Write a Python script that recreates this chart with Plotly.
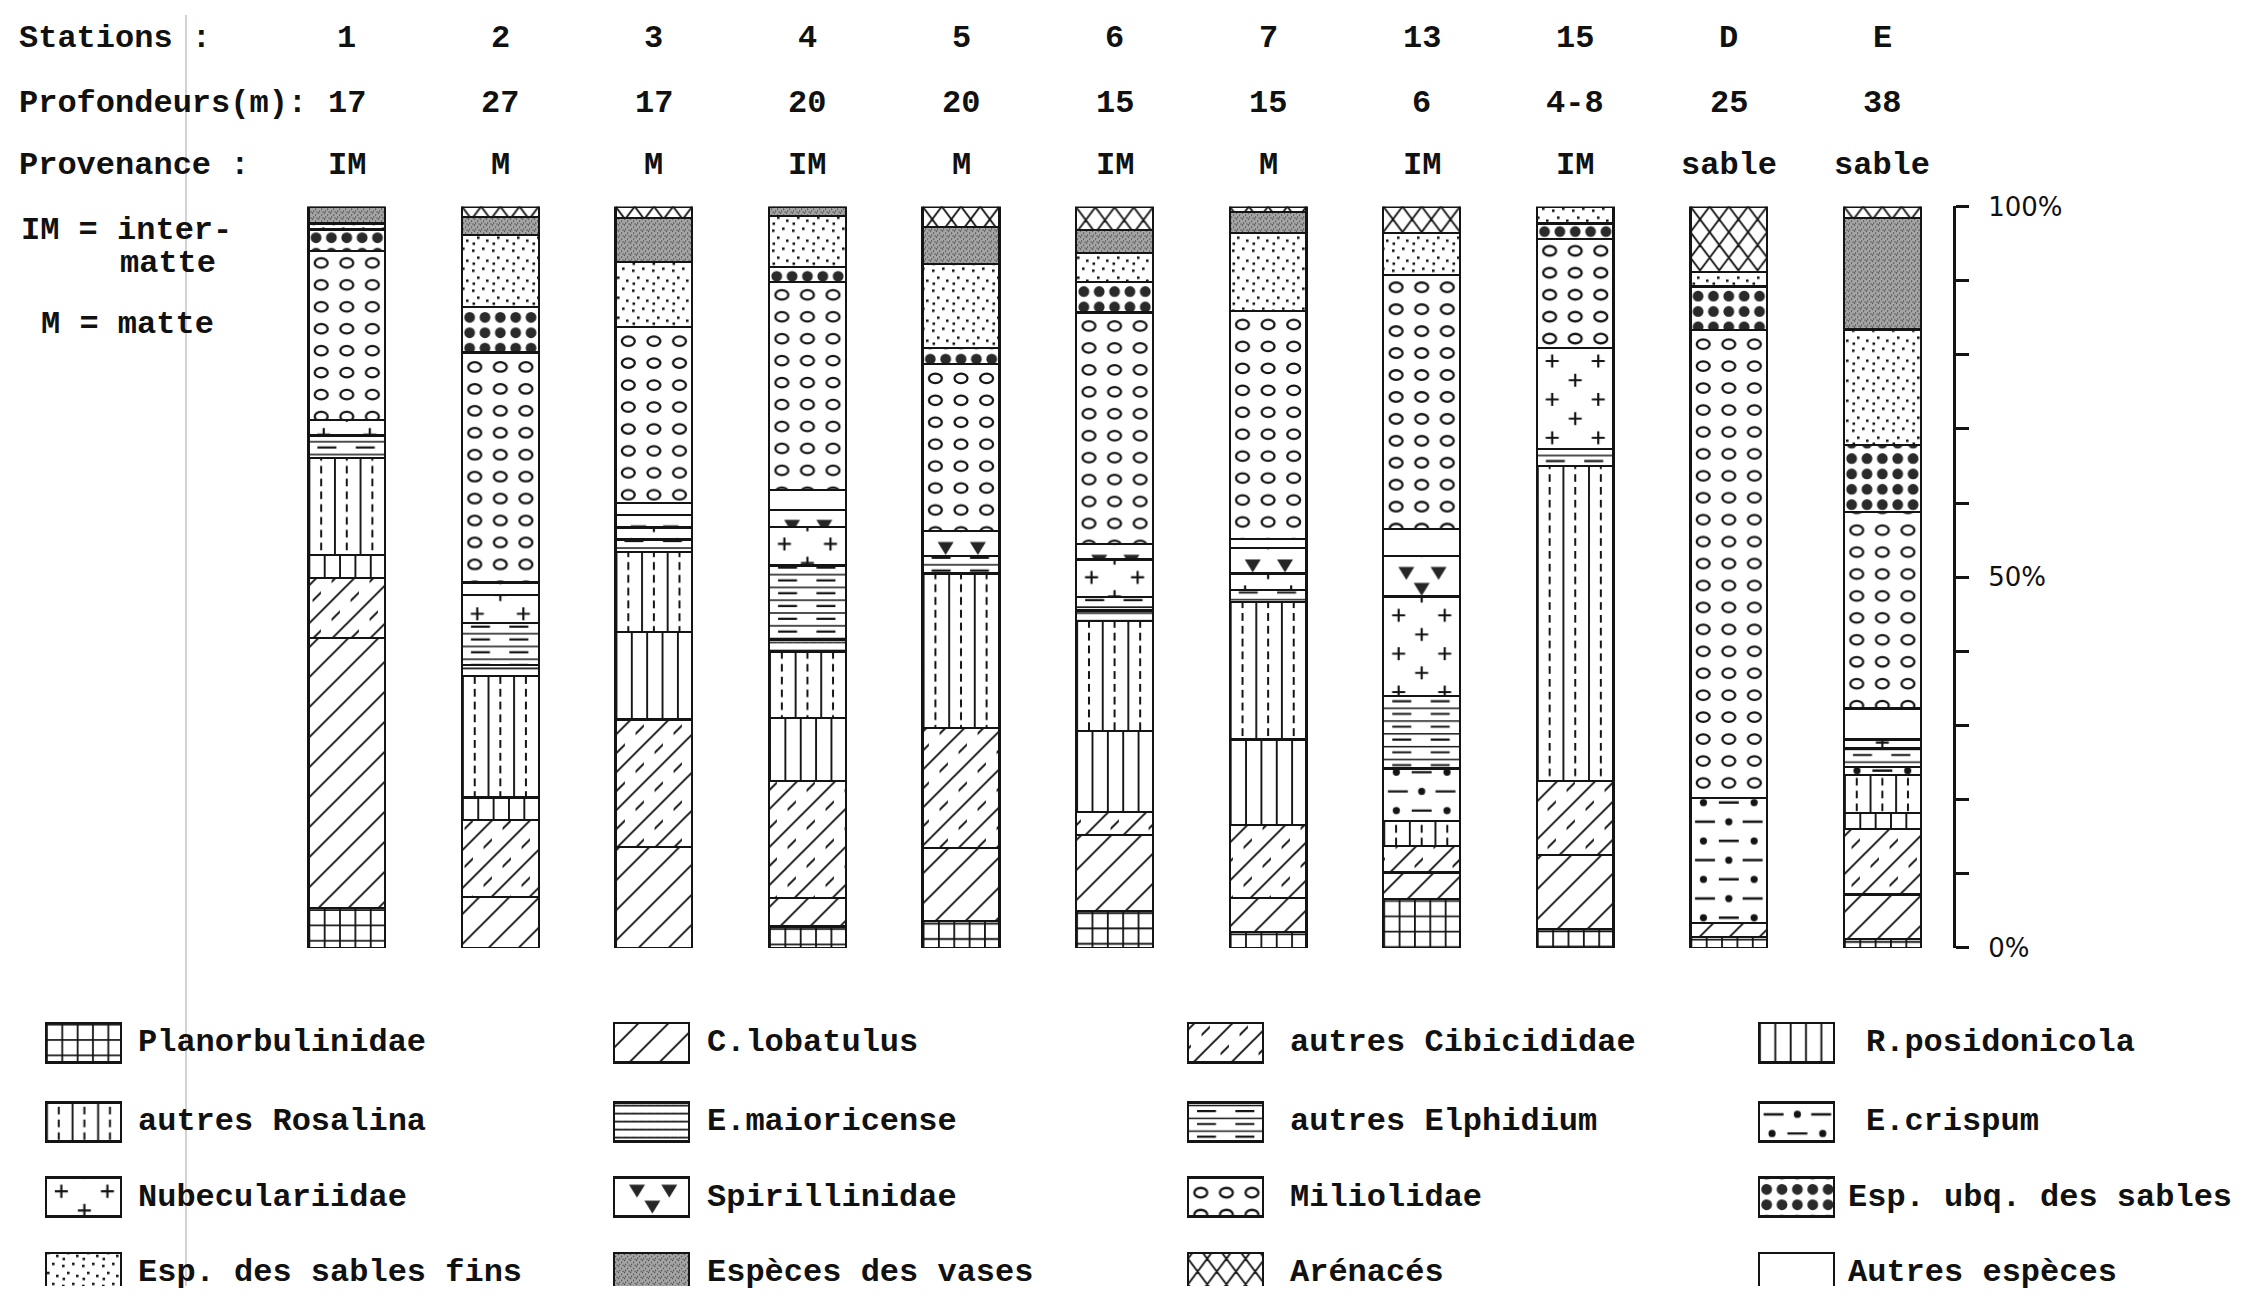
import plotly.graph_objects as go

W, H = 2242, 1301

# ---- station header rows ----
stations = ['1', '2', '3', '4', '5', '6', '7', '13', '15', 'D', 'E']
profondeurs = ['17', '27', '17', '20', '20', '15', '15', '6', '4-8', '25', '38']
provenance = ['IM', 'M', 'M', 'IM', 'M', 'IM', 'M', 'IM', 'IM', 'sable', 'sable']

# ---- composition of each station (% of the assemblage) ----
planorbulinidae    = [5.4, 0.0, 0.0, 2.9, 3.6, 5.0, 2.2, 6.6, 2.6, 1.5, 1.2]
c_lobatulus        = [36.4, 6.9, 13.6, 3.8, 9.9, 10.2, 4.5, 3.6, 9.9, 1.9, 6.0]
autres_cibicididae = [8.1, 10.4, 17.2, 15.8, 16.2, 3.1, 9.9, 3.6, 10.0, 0.0, 8.8]
r_posidonicola     = [3.1, 3.0, 11.8, 8.5, 0.0, 11.0, 11.5, 0.0, 0.0, 0.0, 2.2]
autres_rosalina    = [13.1, 16.4, 10.8, 9.0, 20.8, 14.8, 18.6, 3.3, 42.5, 0.0, 5.1]
e_crispum          = [0.0, 0.0, 0.0, 0.0, 0.0, 0.0, 0.0, 7.1, 0.0, 16.8, 1.1]
e_maioricense      = [0.0, 1.5, 0.0, 1.6, 0.0, 1.4, 0.0, 0.0, 0.0, 0.0, 0.0]
autres_elphidium   = [3.0, 5.6, 1.7, 10.0, 2.4, 1.8, 1.6, 9.8, 2.3, 0.0, 2.5]
nubeculariidae     = [2.1, 3.8, 1.6, 5.2, 0.0, 5.1, 2.2, 13.4, 13.6, 0.0, 1.2]
spirillinidae      = [0.0, 1.7, 1.7, 2.3, 3.3, 2.1, 3.4, 5.5, 0.0, 0.0, 0.0]
autres_especes     = [0.0, 0.0, 1.6, 2.7, 0.0, 0.0, 1.3, 3.6, 0.0, 0.0, 4.2]
miliolidae         = [22.8, 31.0, 23.7, 28.0, 22.6, 31.2, 30.7, 34.3, 14.7, 63.1, 26.5]
esp_ubq_sables     = [2.9, 6.1, 0.0, 2.0, 2.1, 4.1, 0.0, 0.0, 2.1, 5.9, 9.0]
esp_sables_fins    = [0.8, 9.8, 8.8, 6.9, 11.3, 3.9, 10.5, 5.6, 2.3, 2.0, 15.6]
especes_vases      = [2.3, 2.4, 5.9, 1.3, 5.0, 3.1, 2.9, 0.0, 0.0, 0.0, 15.0]
arenaces           = [0.0, 1.4, 1.6, 0.0, 2.8, 3.1, 0.7, 3.6, 0.0, 8.8, 1.6]

# stacking order, bottom to top
stack = [
    ('Planorbulinidae', planorbulinidae),
    ('C.lobatulus', c_lobatulus),
    ('autres Cibicididae', autres_cibicididae),
    ('R.posidonicola', r_posidonicola),
    ('autres Rosalina', autres_rosalina),
    ('E.crispum', e_crispum),
    ('E.maioricense', e_maioricense),
    ('autres Elphidium', autres_elphidium),
    ('Nubeculariidae', nubeculariidae),
    ('Spirillinidae', spirillinidae),
    ('Autres espèces', autres_especes),
    ('Miliolidae', miliolidae),
    ('Esp. ubq. des sables', esp_ubq_sables),
    ('Esp. des sables fins', esp_sables_fins),
    ('Espèces des vases', especes_vases),
    ('Arénacés', arenaces),
]

# key order (4 columns x 4 rows, read row by row)
key_order = [
    'Planorbulinidae', 'C.lobatulus', 'autres Cibicididae', 'R.posidonicola',
    'autres Rosalina', 'E.maioricense', 'autres Elphidium', 'E.crispum',
    'Nubeculariidae', 'Spirillinidae', 'Miliolidae', 'Esp. ubq. des sables',
    'Esp. des sables fins', 'Espèces des vases', 'Arénacés', 'Autres espèces',
]

# ---------- plot geometry ----------
PLOT_L, PLOT_R, PLOT_T, PLOT_B = 270, 1953, 196, 955
X_RANGE = [-0.5, 10.46]
BAR_W = 0.5
UNIT = (PLOT_R - PLOT_L) / (X_RANGE[1] - X_RANGE[0])
BW = BAR_W * UNIT          # bar width in pixels


def bar_left_px(i):
    return (i - BAR_W / 2 - X_RANGE[0]) * UNIT


def value_px(v):
    return (100 - v) / 100 * (PLOT_B - PLOT_T)


# ---------- fill textures (svg paths inside a size x size tile) ----------
def rect(x0, y0, x1, y1):
    return f"M{x0:.2f},{y0:.2f}H{x1:.2f}V{y1:.2f}H{x0:.2f}Z"


def poly(pts):
    return 'M' + 'L'.join(f"{px:.2f},{py:.2f}" for px, py in pts) + 'Z'


def ellipse(cx, cy, rx, ry, sweep=1):
    return (f"M{cx - rx:.2f},{cy:.2f}A{rx},{ry} 0 1,{sweep} {cx + rx:.2f},{cy:.2f}"
            f"A{rx},{ry} 0 1,{sweep} {cx - rx:.2f},{cy:.2f}Z")


def ring(cx, cy, rx, ry, t):
    return ellipse(cx, cy, rx, ry, 1) + ellipse(cx, cy, rx - t, ry - t, 0)


def cross(cx, cy, r, t):
    return (rect(cx - r, cy - t / 2, cx + r, cy + t / 2) +
            rect(cx - t / 2, cy - r, cx + t / 2, cy + r))


def tri_down(cx, ty, w=16, h=13):
    return poly([(cx - w / 2, ty), (cx + w / 2, ty), (cx, ty + h)])


def m_slash(x, y, S, a=1.35):
    return (poly([(x, y + S - a), (x + S - a, y), (x + S, y), (x + S, y + a),
                  (x + a, y + S), (x, y + S)]) +
            poly([(x, y), (x + a, y), (x, y + a)]) +
            poly([(x + S, y + S - a), (x + S, y + S), (x + S - a, y + S)]))


def slash_dash(x, y, S, f0, f1, off, a=1.35):
    return poly([(x + f0 * S, y + (off - f0) * S - a), (x + f1 * S, y + (off - f1) * S - a),
                 (x + f1 * S, y + (off - f1) * S + a), (x + f0 * S, y + (off - f0) * S + a)])


def m_grid(x, y, S):
    return rect(x, y, x + S, y + 1.8) + rect(x, y, x + 1.8, y + S)


def m_vlines(x, y, S):
    return rect(x, y, x + 1.9, y + S)


def m_rosalina(x, y, S):
    c, h = x + S / 2 - 1, S / 2
    return (rect(x, y, x + 1.9, y + S) + rect(c, y + 2, c + 2, y + h - 3) +
            rect(c, y + h + 2, c + 2, y + S - 3))


def m_hlines(x, y, S):
    return rect(x, y, x + S, y + 1.7)


def m_elphidium(x, y, S):
    band, out = S / 3, ''
    for k in range(3):
        yy = y + k * band
        out += rect(x, yy, x + S, yy + 1.5) + rect(x + 9, yy + band / 2 - 1,
                                                   x + 28, yy + band / 2 + 1.2)
    return out


def m_crispum(x, y, S):
    out = ''
    for k in range(4):
        yy = y + (k + 0.5) * S / 4
        if k % 2 == 0:
            out += (rect(x + 0.06 * S, yy - 1.2, x + 0.32 * S, yy + 1.2) +
                    ellipse(x + 0.5 * S, yy, 3.6, 3.6) +
                    rect(x + 0.68 * S, yy - 1.2, x + 0.94 * S, yy + 1.2))
        else:
            out += (ellipse(x + 0.17 * S, yy, 3.6, 3.6) +
                    rect(x + 0.37 * S, yy - 1.2, x + 0.63 * S, yy + 1.2) +
                    ellipse(x + 0.83 * S, yy, 3.6, 3.6))
    return out


def m_nubec(x, y, S):
    out = ''
    for k in range(4):
        yy = y + (k + 0.5) * S / 4
        xs = (0.2, 0.8) if k % 2 == 0 else (0.5,)
        for fx in xs:
            out += cross(x + fx * S, yy, 6.5, 2.2)
    return out


def m_spiril(x, y, S):
    out = ''
    for base in (0, S / 2):
        out += tri_down(x + 0.3 * S, y + base + 3) + tri_down(x + 0.72 * S, y + base + 3)
        out += tri_down(x + 0.5 * S, y + base + 19)
    return out


def m_miliol(x, y, S):
    # 6 columns x 7 rows of small rings in a two-bar-wide tile
    out, cw, rh = '', S / 6, S / 7
    for cx in range(6):
        for ry in range(7):
            out += ring(x + (cx + 0.5) * cw, y + (ry + 0.5) * rh, 7.6, 5.9, 2.3)
    return out


def m_ubq(x, y, S):
    return ellipse(x + S / 2, y + S / 2, 5.4, 5.4)


def m_fins(x, y, S):
    return ''.join(rect(x + px, y + py, x + px + 2.6, y + py + 2.6)
                   for px, py in [(2, 3), (12, 1), (7, 10), (16, 13), (2.5, 16)])


def m_vases(x, y, S):
    return ''.join(rect(x + px, y + py, x + px + 1.2, y + py + 1.2)
                   for px, py in [(0, 0), (3, 2), (1, 4), (4.5, 5)])


def m_cib(x, y, S):
    return (m_slash(x, y, S) + slash_dash(x, y, S, 0.12, 0.34, 0.5) +
            slash_dash(x, y, S, 0.62, 0.84, 1.5))


def m_aren(x, y, S, n=4, m=3, a=1.15):
    # two families of steep lines giving narrow, tall diamonds
    d, run, out = S / n, S * m / n, ''
    for k in range(-n, n + 1):
        xa = x + k * d
        out += poly([(xa - a, y), (xa + a, y), (xa + run + a, y + S), (xa + run - a, y + S)])
        out += poly([(xa + run - a, y), (xa + run + a, y), (xa + a, y + S), (xa - a, y + S)])
    return out


INK = '#141414'
# name -> (motif, tile size, align to bar, fg, bg)
textures = {
    'Planorbulinidae':      (m_grid, BW / 5, True, INK, 'white'),
    'C.lobatulus':          (m_slash, 30, False, INK, 'white'),
    'autres Cibicididae':   (m_cib, 38, False, INK, 'white'),
    'R.posidonicola':       (m_vlines, BW / 5, True, INK, 'white'),
    'autres Rosalina':      (m_rosalina, BW / 3, True, INK, 'white'),
    'E.crispum':            (m_crispum, BW, True, INK, 'white'),
    'E.maioricense':        (m_hlines, BW / 9.6, True, INK, 'white'),
    'autres Elphidium':     (m_elphidium, BW / 2, True, INK, 'white'),
    'Nubeculariidae':       (m_nubec, BW, True, INK, 'white'),
    'Spirillinidae':        (m_spiril, BW, True, '#262626', 'white'),
    'Autres espèces':       (None, None, False, INK, 'white'),
    'Miliolidae':           (m_miliol, 2 * BW, True, INK, 'white'),
    'Esp. ubq. des sables': (m_ubq, BW / 5, True, '#2a2a2a', 'white'),
    'Esp. des sables fins': (m_fins, 20, False, INK, 'white'),
    'Espèces des vases':    (m_vases, 6, False, '#3c3c3c', '#a6a6a6'),
    'Arénacés':             (m_aren, BW, True, INK, 'white'),
}
fallback_shape = {
    'Planorbulinidae': '+', 'C.lobatulus': '/', 'autres Cibicididae': '/',
    'R.posidonicola': '|', 'autres Rosalina': '|', 'E.crispum': '.',
    'E.maioricense': '-', 'autres Elphidium': '-', 'Nubeculariidae': '+',
    'Spirillinidae': '.', 'Miliolidae': '.', 'Esp. ubq. des sables': '.',
    'Esp. des sables fins': '.', 'Espèces des vases': '.', 'Arénacés': 'x',
}

# custom texture paths need a recent plotly; fall back to built-in shapes otherwise
try:
    go.bar.marker.Pattern(path='M0,0H1V1Z')
    HAS_PATH = True
except (ValueError, TypeError):
    HAS_PATH = False


def tile_path(motif, S, ox, oy):
    ox, oy = ox % S, oy % S
    return ''.join(motif(ox + a * S, oy + b * S, S) for a in (-1, 0) for b in (-1, 0))


def marker_for(name, ox=0.0, oy=0.0, line_w=2.3):
    motif, S, align, fg, bg = textures[name]
    if motif is None:
        pattern = dict(shape='')
    elif HAS_PATH:
        if not align:
            ox, oy = 0.0, 0.0
        pattern = dict(path=tile_path(motif, S, ox, oy), size=S, fgcolor=fg,
                       bgcolor=bg, fgopacity=1)
    else:
        pattern = dict(shape=fallback_shape[name], size=12, solidity=0.15,
                       fgcolor=fg, bgcolor=bg, fgopacity=1)
    return dict(color=bg, pattern=pattern, line=dict(color=INK, width=line_w))


fig = go.Figure()

# one trace per segment so each texture starts at the top-left of its own box
cum = [0.0] * len(stations)
for name, vals in stack:
    for i, v in enumerate(vals):
        if v <= 0:
            continue
        top = cum[i] + v
        fig.add_trace(go.Bar(
            x=[i], y=[v], width=BAR_W, name=name, legendgroup=name,
            marker=marker_for(name, bar_left_px(i), value_px(top)),
            showlegend=False,
            hovertemplate=f'Station {stations[i]}<br>{name}: {v:.1f}%<extra></extra>',
        ))
        cum[i] = top

# ---------- key (drawn as swatch bars on a pixel-unit axis pair) ----------
KEY_TOP = 1010
key_x = [46, 614, 1188, 1759]
key_y = [1032, 1113, 1190, 1267]
SW, SH = 75, 40
key_gap = {0: 15, 1: 16, 2: 25, 3: 12}
key_gap_item = {'R.posidonicola': 30, 'E.crispum': 30}

annotations = []
for k, name in enumerate(key_order):
    c, r = k % 4, k // 4
    fig.add_trace(go.Bar(
        x=[key_x[c] + SW / 2], y=[SH], base=[key_y[r]], width=[SW],
        xaxis='x2', yaxis='y2',
        marker=marker_for(name, key_x[c], key_y[r] - KEY_TOP, 2.5),
        showlegend=False, hoverinfo='skip',
    ))
    gap = key_gap_item.get(name, key_gap[c])
    annotations.append(dict(
        x=(key_x[c] + SW + gap) / W, y=1 - (key_y[r] + SH / 2) / H,
        xref='paper', yref='paper', xanchor='left', yanchor='middle',
        text=name, showarrow=False,
    ))

# ---------- header rows ----------
rows_y = [24, 91, 154]
for lab, yy in zip(['Stations :', 'Profondeurs(m):', 'Provenance :'], rows_y):
    annotations.append(dict(x=17 / W, y=1 - yy / H, xref='paper', yref='paper',
                            xanchor='left', yanchor='middle', text=lab, showarrow=False))
for row, yy in zip([stations, profondeurs, provenance], rows_y):
    for i, s in enumerate(row):
        annotations.append(dict(x=i, y=1 - yy / H, xref='x', yref='paper',
                                xanchor='center', yanchor='middle', text=s,
                                showarrow=False))

for lab, xx, yy in [('IM = inter-', 19, 221), ('matte', 118, 254), ('M = matte', 39, 317)]:
    annotations.append(dict(x=xx / W, y=1 - yy / H, xref='paper', yref='paper',
                            xanchor='left', yanchor='middle', text=lab, showarrow=False))

TYPE_FONT = dict(family='Liberation Mono, DejaVu Sans Mono, monospace', size=32,
                 color='#111', weight='bold')
for a in annotations:
    a['font'] = TYPE_FONT

pct_vals = list(range(0, 101, 10))
pct_text = [f'{v}%' if v in (0, 50, 100) else '' for v in pct_vals]

fig.update_layout(
    width=W, height=H,
    margin=dict(l=0, r=0, t=0, b=0),
    paper_bgcolor='white', plot_bgcolor='rgba(0,0,0,0)',
    barmode='stack',
    showlegend=False,
    annotations=annotations,
    xaxis=dict(domain=[PLOT_L / W, PLOT_R / W], range=X_RANGE, visible=False,
               fixedrange=True),
    yaxis=dict(domain=[1 - PLOT_B / H, 1 - PLOT_T / H], range=[0, 100], side='right',
               tickvals=pct_vals, ticktext=pct_text, ticks='outside', ticklen=13,
               tickwidth=2.5, tickcolor=INK, showline=True, linewidth=3,
               linecolor=INK, showgrid=False, zeroline=False, ticklabelstandoff=14,
               tickfont=dict(family='DejaVu Sans, sans-serif', size=26, color='#111'),
               fixedrange=True),
    xaxis2=dict(domain=[0, 1], range=[0, W], visible=False, anchor='y2',
                fixedrange=True),
    yaxis2=dict(domain=[0, 1 - KEY_TOP / H], range=[H, KEY_TOP], visible=False,
                anchor='x2', fixedrange=True),
    shapes=[dict(type='line', xref='paper', yref='paper', x0=186 / W, x1=186 / W,
                 y0=0, y1=1, line=dict(color='#d2d2d2', width=2), layer='below')],
)

fig.write_html('out.html')
